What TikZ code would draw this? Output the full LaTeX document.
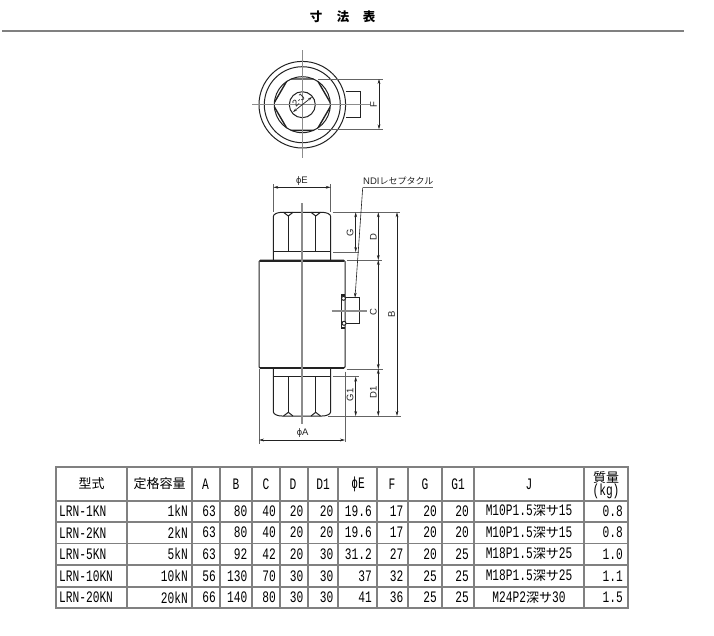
\documentclass[tikz,border=0pt]{standalone}
\usepackage{fontspec}
\usetikzlibrary{arrows.meta}
\newfontfamily\cjk{Noto Sans CJK JP}
\newfontfamily\narrowmono[FakeStretch=0.7]{Liberation Mono}
\newfontfamily\labelsans{Liberation Sans}
\definecolor{gridgray}{HTML}{808080}
\definecolor{inkgray}{HTML}{222222}
\tikzset{
  outline/.style={draw=inkgray,line width=1pt},
  centerline/.style={draw=gray!90,line width=1.2pt},
  extline/.style={draw=inkgray!70,line width=0.6pt},
  dimline/.style={draw=inkgray,line width=0.6pt,{Stealth[length=5pt,width=2.8pt]}-{Stealth[length=5pt,width=2.8pt]}},
  dimlabel/.style={inner sep=0pt,text=inkgray,font=\labelsans\fontsize{9.5}{9.5}\selectfont},
  cell/.style={inner sep=0pt,anchor=east,font=\narrowmono\fontsize{16}{16}\selectfont},
  headcell/.style={inner sep=0pt,anchor=center,font=\narrowmono\fontsize{16}{16}\selectfont},
  titlechar/.style={inner sep=0pt,font=\cjk\bfseries\fontsize{12.5}{13}\selectfont},
  pics/hexnut/.style={code={
    \draw[outline] (-28.7,47.8) -- (-28.7,4.3) .. controls (-28.7,1.5) and (-24,0) .. (-20,0)
      -- (20,0) .. controls (24,0) and (28.7,1.5) .. (28.7,4.3) -- (28.7,47.8);
    \draw[outline] (-18.5,0) -- (-13.7,3.7) -- (-9,0) (9,0) -- (13.7,3.7) -- (18.5,0);
    \draw[outline] (-13.7,3.7) -- (-13.7,39.6) (13.7,3.7) -- (13.7,39.6);
    \draw[outline] (-28.7,39.6) -- (28.7,39.6);
  }}
}
\begin{document}
\begin{tikzpicture}[x=1pt,y=-1pt]
  \useasboundingbox (0,0) rectangle (714,635);
  \node[titlechar] (title1) at (316,17) {寸};
  \node[titlechar] (title2) at (343,17) {法};
  \node[titlechar] (title3) at (369,17) {表};
  \coordinate (ruleL) at (2,31);
  \coordinate (ruleR) at (684,31);
  \draw[gridgray,line width=1.2pt] (ruleL) to (ruleR);

  % top view
  \foreach \rad in {43.3,38,28,13}
    \draw[outline] (302.3,104.7) circle (\rad);
  \begin{scope}
    \clip (302.3,104.7) circle (28.2);
    \draw[outline,line width=1.4pt] (273.1,104.7) -- (288,79) -- (316.6,79)
      -- (331.5,104.7) -- (316.6,130.3) -- (288,130.3) -- cycle;
  \end{scope}
  \draw[outline] (345.7,91.7) -- (360,91.7) -- (360,117.3) -- (345.7,117.3);
  \draw[centerline] (252,104.7) -- (370,104.7);
  \draw[centerline] (302.3,50) -- (302.3,158);
  \coordinate (Fa) at (379,79);
  \coordinate (Fb) at (379,129.3);
  \draw[extline] (318,79) -- (383,79);
  \draw[extline] (318,129.3) -- (383,129.3);
  \draw[dimline] (Fa) to (Fb);
  \node[dimlabel,rotate=90] (Flabel) at (373.5,105) {F};
  \coordinate (Ja) at (293,112);
  \coordinate (Jb) at (312,97);
  \draw[inkgray,line width=0.7pt,{Stealth[length=4pt,width=2.5pt]}-{Stealth[length=4pt,width=2.5pt]}] (Ja) to (Jb);
  \node[dimlabel,rotate=45,fill=white,fill opacity=0,text opacity=1] (Jlabel) at (298.5,100.5) {2-J};

  % front view
  \pic at (302,212.3) {hexnut};
  \pic[yscale=-1] at (302,416) {hexnut};
  \draw[outline,fill=white,rounded corners=1.5pt] (259,260) rectangle (345,368.3);
  \draw[inkgray,line width=2pt] (260,260.5) -- (344,260.5);
  \draw[inkgray,line width=2pt] (260,368) -- (344,368);
  \draw[outline] (345,297.7) -- (359.3,297.7) -- (359.3,323.3) -- (345,323.3);
  \draw[inkgray,line width=1.8pt] (345,295) -- (341.5,295) -- (341.5,327.7) -- (345,327.7);
  \draw[outline,fill=white] (343.5,298.3) circle (2);
  \draw[outline,fill=white] (344,323.3) circle (2);
  \draw[centerline] (302,203) -- (302,424);
  \draw[centerline] (331.7,311) -- (366.7,311);

  \coordinate (Ea) at (273.3,187.3);
  \coordinate (Eb) at (330.7,187.3);
  \coordinate (Aa) at (259,440);
  \coordinate (Ab) at (345,440);
  \coordinate (Gt) at (355.7,212.3);
  \coordinate (Gb) at (355.7,252);
  \coordinate (Dt) at (378.3,212.3);
  \coordinate (Db) at (378.3,260);
  \coordinate (Cb) at (378.3,369);
  \coordinate (Hb) at (378.3,416);
  \coordinate (Bt) at (397,212.3);
  \coordinate (Bb) at (397,416);
  \coordinate (Ht) at (355.7,376.7);
  \coordinate (Hg) at (355.7,416);
  \coordinate (leader) at (362.7,187.7);
  \coordinate (leaderEnd) at (432.7,187.7);
  \coordinate (socket) at (355,297.7);
  \draw[extline] (273.3,184) -- (273.3,212);
  \draw[extline] (330.7,184) -- (330.7,212);
  \draw[extline] (259,369) -- (259,444);
  \draw[extline] (345,371.7) -- (345,441.7);
  \draw[extline] (332.7,212.3) -- (400,212.3);
  \draw[extline] (333,252) -- (359,252);
  \draw[extline] (347,260) -- (381.7,260);
  \draw[extline] (346.7,369) -- (382.7,369);
  \draw[extline] (332.7,376.7) -- (359.3,376.7);
  \draw[extline] (328,416) -- (400.7,416);
  \draw[dimline] (Ea) to (Eb);
  \draw[dimline] (Aa) to (Ab);
  \draw[dimline] (Gt) to (Gb);
  \draw[dimline] (Dt) to (Db);
  \draw[dimline] (Db) to (Cb);
  \draw[dimline] (Cb) to (Hb);
  \draw[dimline] (Bt) to (Bb);
  \draw[dimline] (Ht) to (Hg);
  \draw[extline] (leaderEnd) to (leader);
  \draw[inkgray,line width=0.6pt,-{Stealth[length=5pt,width=2.8pt]}] (leader) to (socket);
  \node[dimlabel] (Elabel) at (302,181) {ϕE};
  \node[dimlabel] (Alabel) at (302.7,433.5) {ϕA};
  \node[dimlabel,rotate=90] (Glabel) at (350,232.3) {G};
  \node[dimlabel,rotate=90] (Dlabel) at (373.3,236.7) {D};
  \node[dimlabel,rotate=90] (Clabel) at (373.3,311.7) {C};
  \node[dimlabel,rotate=90] (Blabel) at (391.7,314) {B};
  \node[dimlabel,rotate=90] (G1label) at (350,395) {G1};
  \node[dimlabel,rotate=90] (D1label) at (373.3,392.7) {D1};
  \node[dimlabel,anchor=west] (ndi) at (363,181) {NDI{\cjk\fontsize{9}{9}\selectfont レセプタクル}};

  % table
  \foreach \px in {56,127,192,220,252,280,308,338,377,408,442,474,584,628}
    \draw[gridgray,line width=1.8pt] (\px,467) -- (\px,608);
  \foreach \py in {467,500.7,522,543.5,565,587,608}
    \draw[gridgray,line width=1.8pt] (55,\py) -- (629,\py);

  \node[headcell,font=\cjk\fontsize{13}{13}\selectfont] (h0) at (91.5,484) {型式};
  \node[headcell,font=\cjk\fontsize{13}{13}\selectfont] (h1) at (159.5,484) {定格容量};
  \node[headcell] (h2) at (205.5,484) {A};
  \node[headcell] (h3) at (236,484) {B};
  \node[headcell] (h4) at (266,484) {C};
  \node[headcell] (h5) at (293,484) {D};
  \node[headcell] (h6) at (323,484) {D1};
  \node[headcell] (h7) at (358,484) {ϕE};
  \node[headcell] (h8) at (392,484) {F};
  \node[headcell] (h9) at (425,484) {G};
  \node[headcell] (h10) at (458,484) {G1};
  \node[headcell] (h11) at (529,484) {J};
  \node[headcell,font=\cjk\fontsize{13}{13}\selectfont] (h12) at (606,477.5) {質量};
  \node[headcell] (h13) at (606,491) {(kg)};

  \foreach \rw/\ty/\model/\cap/\va/\vb/\vc/\vd/\vdd/\ve/\vf/\vg/\vgg/\vj/\vm in {
      1/511/LRN-1KN/1kN/63/80/40/20/20/19.6/17/20/20/M10P1.5{\cjk\fontsize{13}{13}\selectfont 深サ}15/0.8,
      2/532.7/LRN-2KN/2kN/63/80/40/20/20/19.6/17/20/20/M10P1.5{\cjk\fontsize{13}{13}\selectfont 深サ}15/0.8,
      3/554/LRN-5KN/5kN/63/92/42/20/30/31.2/27/20/25/M18P1.5{\cjk\fontsize{13}{13}\selectfont 深サ}25/1.0,
      4/576/LRN-10KN/10kN/56/130/70/30/30/37/32/25/25/M18P1.5{\cjk\fontsize{13}{13}\selectfont 深サ}25/1.1,
      5/597.5/LRN-20KN/20kN/66/140/80/30/30/41/36/25/25/M24P2{\cjk\fontsize{13}{13}\selectfont 深サ}30/1.5} {
    \node[cell,anchor=west] (model\rw) at (59,\ty) {\model};
    \node[cell] (cap\rw) at (188,\ty) {\cap};
    \node[cell] (a\rw) at (216,\ty) {\va};
    \node[cell] (b\rw) at (247.5,\ty) {\vb};
    \node[cell] (c\rw) at (276,\ty) {\vc};
    \node[cell] (d\rw) at (303.5,\ty) {\vd};
    \node[cell] (dd\rw) at (333.5,\ty) {\vdd};
    \node[cell] (e\rw) at (372,\ty) {\ve};
    \node[cell] (f\rw) at (403.5,\ty) {\vf};
    \node[cell] (g\rw) at (437,\ty) {\vg};
    \node[cell] (gg\rw) at (469,\ty) {\vgg};
    \node[headcell] (j\rw) at (529,\ty) {\vj};
    \node[cell] (m\rw) at (623,\ty) {\vm};
  }
\end{tikzpicture}
\end{document}
